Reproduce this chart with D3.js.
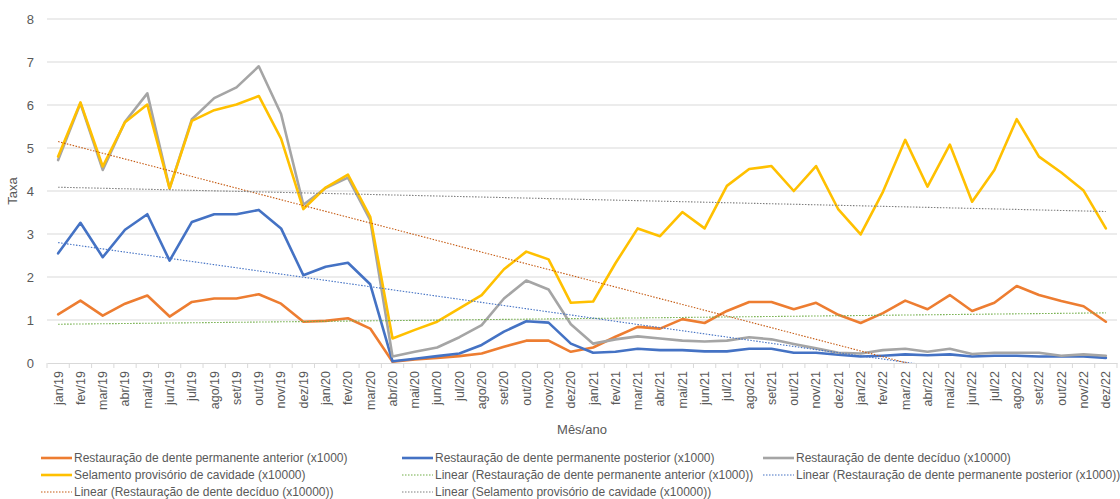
<!DOCTYPE html>
<html><head><meta charset="utf-8">
<script src="https://cdn.jsdelivr.net/npm/d3@7"></script>
<style>
html,body{margin:0;padding:0;background:#fff;}
svg{display:block;font-family:"Liberation Sans","DejaVu Sans",sans-serif;}
</style></head>
<body><svg id="c" width="1120" height="499"></svg>
<script>
const months = ["jan/19","fev/19","mar/19","abr/19","mai/19","jun/19","jul/19","ago/19","set/19","out/19","nov/19","dez/19",
"jan/20","fev/20","mar/20","abr/20","mai/20","jun/20","jul/20","ago/20","set/20","out/20","nov/20","dez/20",
"jan/21","fev/21","mar/21","abr/21","mai/21","jun/21","jul/21","ago/21","set/21","out/21","nov/21","dez/21",
"jan/22","fev/22","mar/22","abr/22","mai/22","jun/22","jul/22","ago/22","set/22","out/22","nov/22","dez/22"];

const anterior = [1.13,1.45,1.10,1.38,1.57,1.08,1.42,1.50,1.50,1.60,1.38,0.96,
0.98,1.04,0.80,0.03,0.08,0.12,0.16,0.22,0.38,0.52,0.52,0.26,
0.36,0.61,0.84,0.80,1.02,0.93,1.21,1.42,1.42,1.25,1.40,1.12,
0.93,1.16,1.45,1.25,1.58,1.21,1.40,1.79,1.58,1.44,1.32,0.96];

const posterior = [2.55,3.26,2.46,3.10,3.46,2.38,3.28,3.46,3.46,3.56,3.13,2.04,
2.24,2.33,1.83,0.04,0.10,0.16,0.22,0.42,0.73,0.97,0.94,0.45,
0.24,0.26,0.33,0.30,0.30,0.27,0.27,0.33,0.33,0.24,0.24,0.19,
0.15,0.17,0.20,0.18,0.20,0.15,0.17,0.17,0.15,0.15,0.15,0.12];

const deciduo = [4.72,6.04,4.49,5.61,6.27,4.06,5.67,6.16,6.41,6.90,5.79,3.68,
4.07,4.31,3.32,0.15,0.26,0.36,0.60,0.88,1.50,1.92,1.71,0.90,
0.45,0.55,0.62,0.57,0.52,0.50,0.52,0.60,0.55,0.44,0.34,0.24,
0.22,0.30,0.33,0.26,0.33,0.21,0.24,0.24,0.24,0.17,0.20,0.17];

const selamento = [4.80,6.06,4.57,5.60,6.01,4.06,5.63,5.88,6.01,6.21,5.22,3.58,
4.08,4.38,3.40,0.57,0.77,0.96,1.27,1.58,2.18,2.59,2.41,1.40,
1.43,2.32,3.13,2.95,3.51,3.13,4.12,4.51,4.58,4.00,4.58,3.57,
2.99,3.98,5.19,4.10,5.08,3.75,4.49,5.67,4.80,4.43,4.01,3.13];

const yTicks = [0,1,2,3,4,5,6,7,8];

const seriesNames = ["Restauração de dente permanente anterior (x1000)",
"Restauração de dente permanente posterior (x1000)",
"Restauração de dente decíduo (x10000)",
"Selamento provisório de cavidade (x10000)"];
const seriesColors = ["#ED7D31","#4472C4","#A5A5A5","#FFC000"];
const trendColors = ["#70AD47","#4472C4","#C55A11","#7F7F7F"];
const seriesData = [anterior, posterior, deciduo, selamento];

const svg = d3.select("#c");
const L = 47, R = 1117, T = 19, B = 363;
const x = d3.scaleBand().domain(months).range([L, R]);
const y = d3.scaleLinear().domain([0, 8]).range([B, T]);
const cx = m => x(m) + x.bandwidth()/2;

// gridlines
svg.append("g").selectAll("line").data(yTicks.filter(d=>d>0)).join("line")
  .attr("x1", L).attr("x2", R).attr("y1", d=>y(d)).attr("y2", d=>y(d))
  .attr("stroke", "#d9d9d9").attr("stroke-width", 1);

// y axis labels
const yAxis = svg.append("g").attr("transform", `translate(${L},0)`)
  .call(d3.axisLeft(y).tickValues(yTicks).tickSize(0).tickPadding(13));
yAxis.select(".domain").remove();
yAxis.selectAll("text").attr("fill","#595959").attr("font-size", 13);

// x axis
const xAxis = svg.append("g").attr("transform", `translate(0,${B})`)
  .call(d3.axisBottom(x).tickSize(0).tickPadding(0));
xAxis.select(".domain").attr("stroke","#d9d9d9");
xAxis.selectAll("text").attr("fill","#595959").attr("font-size", 12.5)
  .attr("text-anchor","end").attr("dy","0.35em")
  .attr("transform","translate(0,8) rotate(-90)");
// category boundary ticks
svg.append("g").selectAll("line").data(d3.range(months.length+1)).join("line")
  .attr("x1", i => L + i*x.bandwidth()).attr("x2", i => L + i*x.bandwidth())
  .attr("y1", B).attr("y2", B+5).attr("stroke","#d9d9d9");

// clip
svg.append("clipPath").attr("id","plot").append("rect")
  .attr("x", L).attr("y", T).attr("width", R-L).attr("height", B-T);

function linreg(vals){
  const n = vals.length, xs = d3.range(n);
  const mx = d3.mean(xs), my = d3.mean(vals);
  let sxy=0, sxx=0;
  xs.forEach((xi,i)=>{sxy += (xi-mx)*(vals[i]-my); sxx += (xi-mx)*(xi-mx);});
  const b = sxy/sxx, a = my - b*mx;
  return xs.map(xi => a + b*xi);
}

const line = d3.line().x((d,i)=>cx(months[i])).y(d=>y(d));

// series lines
const drawOrder = [0,1,2,3];
drawOrder.forEach(k=>{
  svg.append("path").datum(seriesData[k]).attr("d", line)
    .attr("fill","none").attr("stroke", seriesColors[k]).attr("stroke-width", 2.6)
    .attr("stroke-linejoin","round").attr("stroke-linecap","round");
});

// trend lines
const tg = svg.append("g").attr("clip-path","url(#plot)");
[0,1,2,3].forEach(k=>{
  tg.append("path").datum(linreg(seriesData[k])).attr("d", line)
    .attr("fill","none").attr("stroke", trendColors[k]).attr("stroke-width", 1.1)
    .attr("stroke-dasharray","1.5,1.5");
});

// axis titles
svg.append("text").attr("transform", `translate(17,${(T+B)/2}) rotate(-90)`)
  .attr("text-anchor","middle").attr("font-size",13).attr("fill","#595959").text("Taxa");
svg.append("text").attr("x",(L+R)/2).attr("y",434)
  .attr("text-anchor","middle").attr("font-size",13).attr("fill","#595959").text("Mês/ano");

// legend
const legendItems = [
  {name: seriesNames[0], color: seriesColors[0], dash: null},
  {name: seriesNames[1], color: seriesColors[1], dash: null},
  {name: seriesNames[2], color: seriesColors[2], dash: null},
  {name: seriesNames[3], color: seriesColors[3], dash: null},
  {name: "Linear (" + seriesNames[0] + ")", color: trendColors[0], dash: "1.5,1.5"},
  {name: "Linear (" + seriesNames[1] + ")", color: trendColors[1], dash: "1.5,1.5"},
  {name: "Linear (" + seriesNames[2] + ")", color: trendColors[2], dash: "1.5,1.5"},
  {name: "Linear (" + seriesNames[3] + ")", color: trendColors[3], dash: "1.5,1.5"}
];
const colX = [41, 402, 763], rowY = [458, 475, 492];
const lg = svg.append("g");
legendItems.forEach((it, i)=>{
  const cxL = colX[i%3], cyL = rowY[Math.floor(i/3)];
  lg.append("line").attr("x1", cxL).attr("x2", cxL+31).attr("y1", cyL).attr("y2", cyL)
    .attr("stroke", it.color).attr("stroke-width", it.dash ? 1.1 : 2.6)
    .attr("stroke-dasharray", it.dash);
  lg.append("text").attr("x", cxL+33).attr("y", cyL).attr("dy","0.35em")
    .attr("font-size", 12).attr("fill","#595959").text(it.name);
});
</script></body></html>
